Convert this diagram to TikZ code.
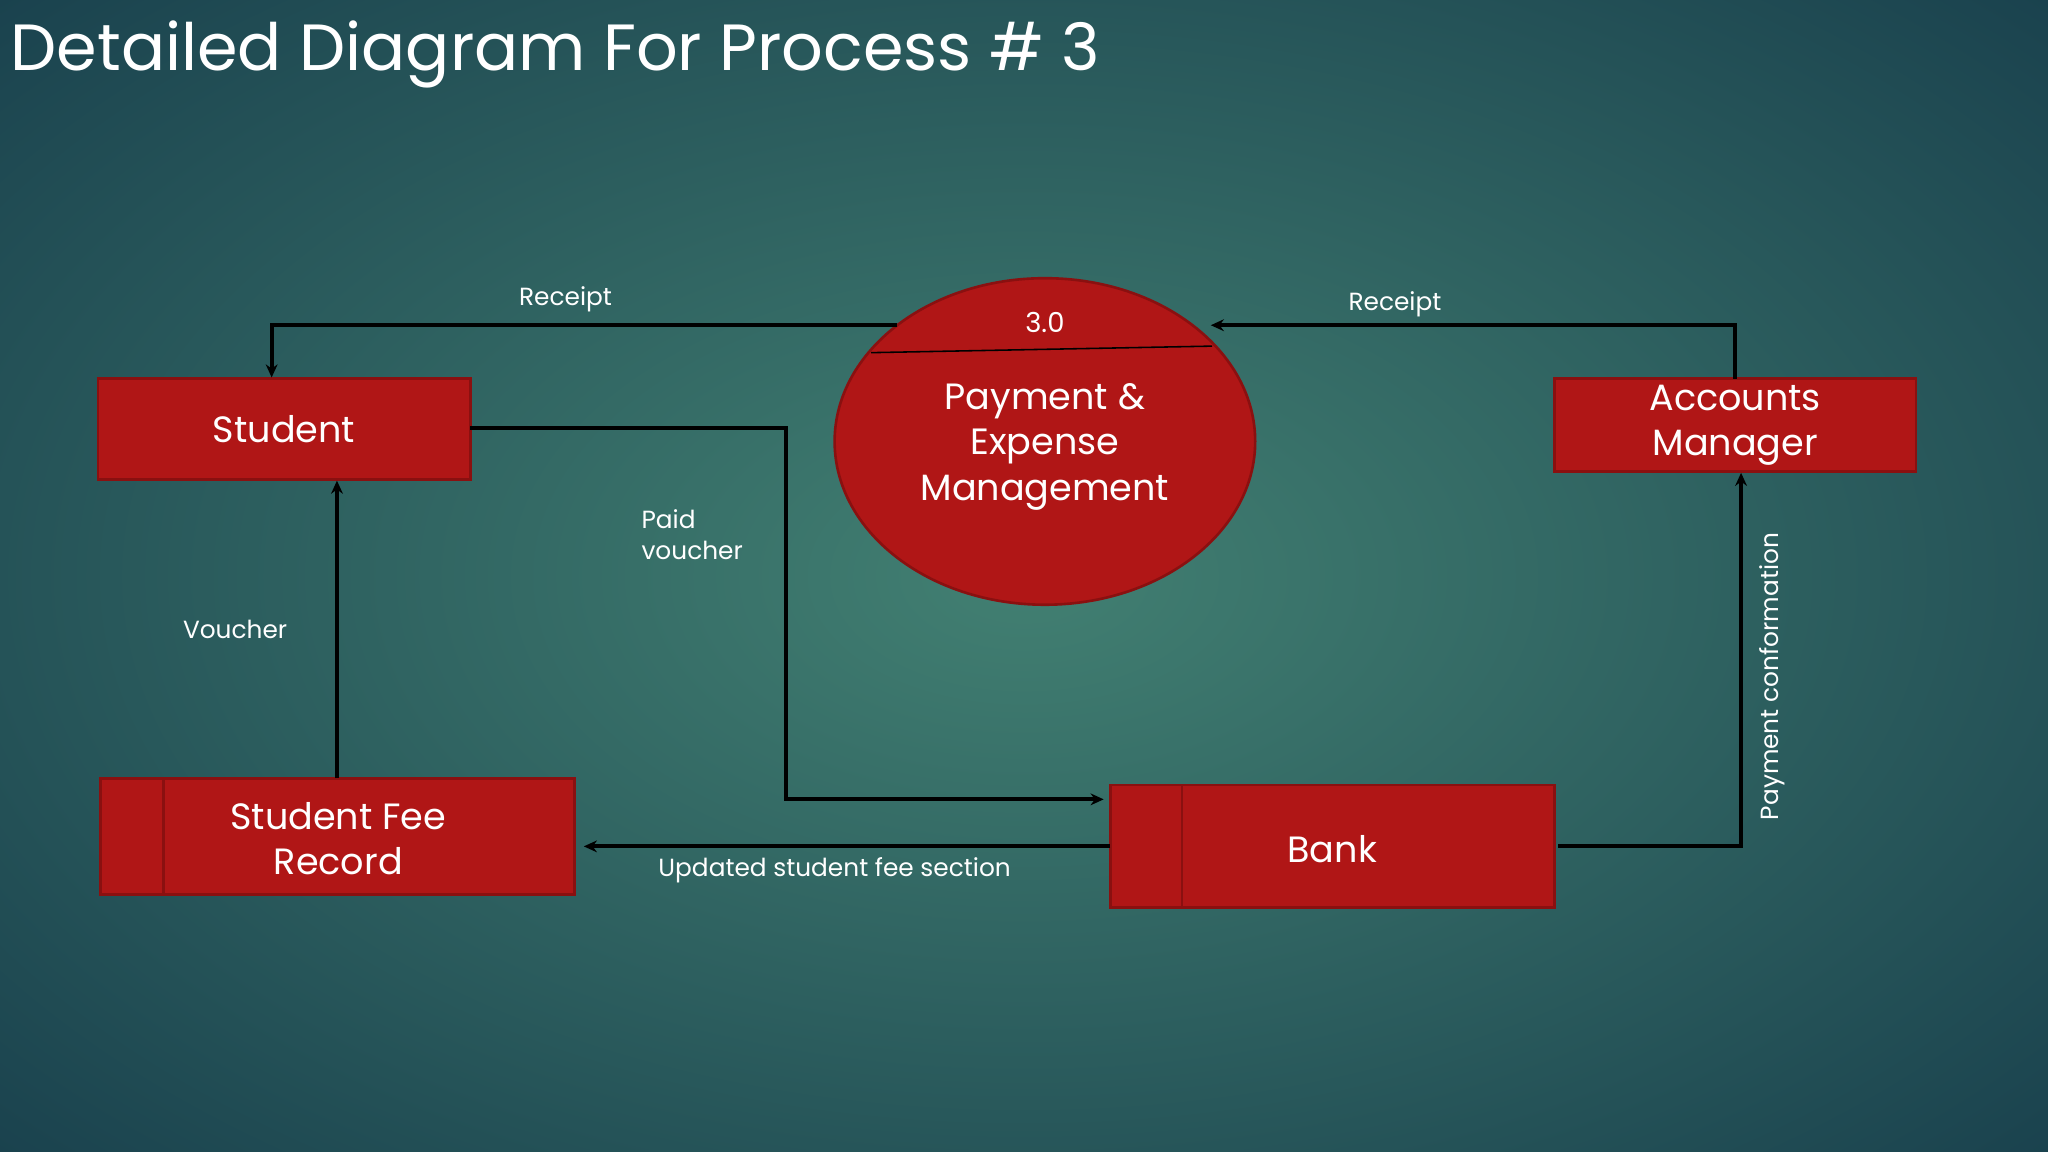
\documentclass[tikz,border=0pt]{standalone}
\usepackage{fontspec}
\setmainfont{Poppins}
\usetikzlibrary{arrows.meta,shapes.geometric}
\definecolor{boxred}{HTML}{B01616}
\definecolor{boxedge}{HTML}{8A1010}
\begin{document}
\begin{tikzpicture}[x=1pt,y=-1pt,
  ent/.style={draw=boxedge,line width=2pt,fill=boxred,text=white,font=\fontsize{28}{35}\selectfont\mdseries,align=center,inner sep=0pt},
  flow/.style={draw=black,line width=3pt,-{Stealth[length=10pt,width=9pt]}},
  lbl/.style={text=white,font=\fontsize{19}{24}\selectfont,inner sep=0pt}]
\useasboundingbox (0,0) rectangle (1568,882);
\shade[inner color={rgb,255:red,66;green,128;blue,114}, outer color={rgb,255:red,26;green,66;blue,78}] (-300,-200) rectangle (1868,1082);
\node[anchor=west,text=white,font=\fontsize{50}{56}\selectfont,inner sep=0pt] (title) at (8,42) {Detailed Diagram For Process \# 3};
% entities
\node[ent,minimum width=285pt,minimum height=77pt] (stu) at (217.5,328.5) {Student};
\node[ent,minimum width=277pt,minimum height=71pt] (am) at (1328.5,325.5) {Accounts\\Manager};
\node[ent,minimum width=363pt,minimum height=89pt] (sfr) at (258.5,640.5) {};
\node[text=white,font=\fontsize{28}{35}\selectfont,align=center] (sfrt) at (259,642) {Student Fee\\Record};
\draw[boxedge,line width=2pt] (125,596) -- (125,685);
\node[ent,minimum width=340pt,minimum height=94pt] (bank) at (1020,648) {};
\node[text=white,font=\fontsize{28}{32}\selectfont] (bankt) at (1020,650) {Bank};
\draw[boxedge,line width=2pt] (905,601) -- (905,695);
% process
\node[ellipse,draw=boxedge,line width=2pt,fill=boxred,minimum width=322pt,minimum height=250pt,inner sep=0pt] (p) at (800,338) {};
\draw[black,line width=1.2pt] (667,270) -- (928,265);
\node[text=white,font=\fontsize{21}{24}\selectfont] (pid) at (800,247) {3.0};
\node[text=white,font=\fontsize{28}{35}\selectfont,align=center] (pt) at (800,342) {Payment \&\\Expense\\Management};
% coordinates
\coordinate (a1) at (687,249); \coordinate (a2) at (208,249); \coordinate (a3) at (208,289);
\coordinate (b1) at (1328,290); \coordinate (b2) at (1328,249); \coordinate (b3) at (927,249);
\coordinate (c1) at (360,328); \coordinate (c2) at (602,328); \coordinate (c3) at (602,612); \coordinate (c4) at (845,612);
\coordinate (d1) at (258,596); \coordinate (d2) at (258,368);
\coordinate (e1) at (850,648); \coordinate (e2) at (447,648);
\coordinate (f1) at (1193,648); \coordinate (f2) at (1333,648); \coordinate (f3) at (1333,362);
\draw[flow] (a1) -- (a2) -- (a3);
\draw[flow] (b1) -- (b2) -- (b3);
\draw[flow] (c1) -- (c2) -- (c3) -- (c4);
\draw[flow] (d1) -- (d2);
\draw[flow] (e1) -- (e2);
\draw[flow] (f1) -- (f2) -- (f3);
% labels
\node[lbl] (l1) at (433,229) {Receipt};
\node[lbl] (l2) at (1068,233) {Receipt};
\node[lbl,anchor=north west,align=left] (l3) at (491,390) {Paid\\voucher};
\node[lbl] (l4) at (180,482) {Voucher};
\node[lbl] (l5) at (639,666) {Updated student fee section};
\node[lbl,rotate=90] (l6) at (1357,518) {Payment conformation};
\end{tikzpicture}
\end{document}
